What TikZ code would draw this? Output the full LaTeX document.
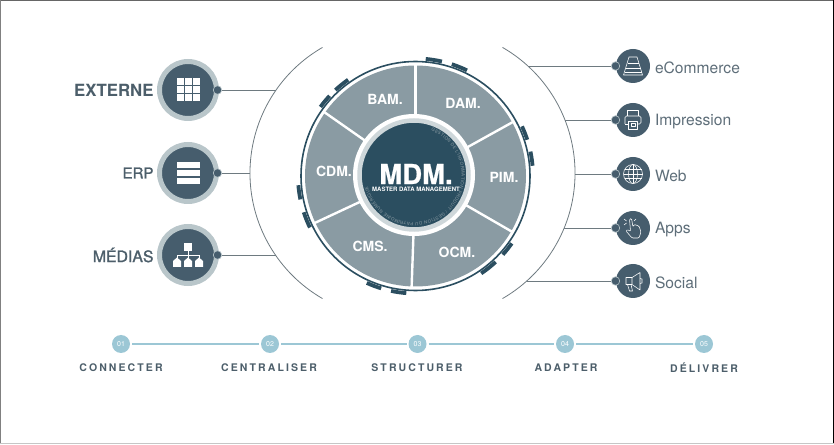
\documentclass[tikz,border=0pt]{standalone}
\usepackage{fontspec}
\setmainfont{TeX Gyre Heros}
\newfontfamily\medfont[FakeBold=1.5]{TeX Gyre Heros}
\newfontfamily\heavyfont[BoldFeatures={FakeBold=0.8}]{TeX Gyre Heros}
\newfontfamily\stepfont[LetterSpace=20]{TeX Gyre Heros}
\usetikzlibrary{decorations.text}
\definecolor{hubdark}{HTML}{2B4E60}
\definecolor{slate}{HTML}{465D6D}
\definecolor{ringlight}{HTML}{B9C6CA}
\definecolor{sector}{HTML}{8A9BA3}
\definecolor{labelgrey}{HTML}{4C5E6A}
\definecolor{barblue}{HTML}{9CC7D5}
\definecolor{arcgrey}{HTML}{6E7A80}
\tikzset{
    srcnode/.style={circle,fill=slate,draw=ringlight,line width=5pt,minimum size=57pt,inner sep=0pt},
    srcdot/.style={circle,fill=slate,draw=ringlight,line width=0.6pt,minimum size=8.5pt,inner sep=0pt},
    outnode/.style={circle,fill=slate,minimum size=34pt,inner sep=0pt},
    stepdot/.style={circle,fill=barblue,minimum size=18pt,inner sep=0pt,outer sep=2pt,text=white,font=\fontsize{7}{8}\selectfont},
    srclabel/.style={anchor=east,text=labelgrey},
    outlabel/.style={anchor=west,text=labelgrey!90,font=\fontsize{15.6}{18}\selectfont},
    steplabel/.style={text=labelgrey,font=\stepfont\bfseries\fontsize{10.5}{12}\selectfont},
    seclabel/.style={text=white,font=\bfseries\fontsize{14}{16}\selectfont},
    thin line/.style={draw=arcgrey,line width=0.8pt},
    tick/.style={hubdark,line width=3.8pt},
    icon/.style={draw=white,line width=0.55pt,line join=round}
}
\begin{document}
\begin{tikzpicture}[x=1pt,y=1pt]
\useasboundingbox (0,0) rectangle (834,444);
% frame
\draw[gray!80!black,line width=1pt] (0,443.5) -- (834,443.5);
\draw[gray,line width=1pt] (0.5,0) -- (0.5,444);
\draw[black,line width=1pt] (833.5,0) -- (833.5,444);
\draw[gray!45,line width=1pt] (0,0.5) -- (834,0.5);

% outer arcs
\draw[thin line] (395,271) ++(120:145) arc[start angle=120,end angle=240,radius=145];
\draw[thin line] (430,271) ++(60:145) arc[start angle=60,end angle=-60,radius=145];

% wheel
\coordinate (wheel) at (415.5,268);
\draw[hubdark,line width=1.6pt] (wheel) circle (114.5);
\fill[sector] (wheel) circle (110.5);
\foreach \a in {90,29,-30,-92,205,145}
    \draw[white,line width=2.4pt] (wheel) -- ++(\a:112);
\foreach \a/\b in {85/77,72/64,25/18,12/5,-35/-42,-47/-56,-94.5/-102,-107/-114.5,-154/-162,-168.5/-175.5,144/137,133/125}
    \draw[tick] (wheel) ++(\a:117.5) arc[start angle=\a,end angle=\b,radius=117.5];
\fill[white] (414,269) circle (61);
\node[circle,fill=hubdark,draw=ringlight!70,line width=4.5pt,minimum size=109pt,inner sep=0pt] (hub) at (414,269) {};
\path[decorate,decoration={text along path,text align=fit to path,
    text={|\fontsize{4.4}{5}\selectfont\color{sector}|GESTION DE L'INFORMATION PRODUIT  /  GESTION DU PATRIMOINE NUMÉRIQUE}}]
    (hub.center) ++(69:47.5) arc[start angle=69,end angle=-166,radius=47.5];
\node[text=white,font=\heavyfont\bfseries\fontsize{27.5}{30}\selectfont] (mdm) at (416,270) {MDM.};
\node[text=white,font=\bfseries\fontsize{6}{7}\selectfont] (mdmsub) at (416,255) {MASTER DATA MANAGEMENT};
\node[seclabel] (bam) at (385,345) {BAM.};
\node[seclabel] (dam) at (463,341) {DAM.};
\node[seclabel] (pim) at (504,267) {PIM.};
\node[seclabel] (ocm) at (457,192) {OCM.};
\node[seclabel] (cms) at (370,198) {CMS.};
\node[seclabel] (cdm) at (334,273) {CDM.};

% sources
\node[srcnode] (externe) at (188,354) {};
\node[srcnode] (erp) at (188,271) {};
\node[srcnode] (medias) at (188,189) {};
\node[srcdot] (externedot) at (217.5,354) {};
\node[srcdot] (erpdot) at (217.5,271) {};
\node[srcdot] (mediasdot) at (217.5,189) {};
\node[srclabel,font=\bfseries\fontsize{16.8}{18}\selectfont] at (157,354) {EXTERNE};
\node[srclabel,font=\medfont\fontsize{15}{18}\selectfont] at (157,271) {ERP};
\node[srclabel,font=\medfont\fontsize{15.8}{18}\selectfont] at (157,189) {MÉDIAS};
\coordinate (arcA) at (276,354);
\coordinate (arcB) at (250,271);
\coordinate (arcC) at (275.5,189);
\draw[thin line] (externedot) -- (arcA);
\draw[thin line] (erpdot) -- (arcB);
\draw[thin line] (mediasdot) -- (arcC);
% source icons
\begin{scope}[shift={(externe.center)}]
    \foreach \i in {-1,0,1} \foreach \j in {-1,0,1}
        \fill[white] (\i*8-3.5,\j*8-3.5) rectangle ++(7,7);
\end{scope}
\begin{scope}[shift={(erp.center)}]
    \foreach \j in {-1,0,1}
        \fill[white] (-11.5,\j*8.2-3.2) rectangle ++(23,6.4);
\end{scope}
\begin{scope}[shift={(medias.center)}]
    \fill[white] (-4,4) rectangle (4,12);
    \foreach \i in {-11,0,11}
        \fill[white] (\i-4,-12) rectangle ++(8,6) (\i-4,-6) -- (\i,-2.5) -- (\i+4,-6) -- cycle;
    \draw[white,line width=0.7pt] (0,4) -- (0,-3) (-11,-3) -- (-11,0) -- (11,0) -- (11,-3);
\end{scope}

% outputs
\foreach \n/\y/\t in {ecom/378/eCommerce,print/324/Impression,web/270/Web,apps/216/Apps,social/163/Social}{
    \node[outnode] (\n) at (633,\y) {};
    \node[srcdot] (\n-dot) at (615.5,\y) {};
    \node[outlabel] (\n-label) at (651.5,\y-1.5) {\t};
}
\coordinate (arcD) at (528,378);
\coordinate (arcE) at (565,324);
\coordinate (arcF) at (575,270);
\coordinate (arcG) at (564,216);
\coordinate (arcH) at (527,163);
\draw[thin line] (arcD) -- (ecom-dot);
\draw[thin line] (arcE) -- (print-dot);
\draw[thin line] (arcF) -- (web-dot);
\draw[thin line] (arcG) -- (apps-dot);
\draw[thin line] (arcH) -- (social-dot);
% output icons
\begin{scope}[shift={(ecom.center)},icon]
    \draw (-9.5,-9) -- (9.5,-9) -- (4,9) -- (-4,9) -- cycle;
    \draw (-5.5,3) -- (5.5,3) (-7.5,-2.5) -- (7.5,-2.5) (-8.5,-6) -- (8.5,-6);
\end{scope}
\begin{scope}[shift={(print.center)},icon]
    \draw (-5.5,4) -- (-5.5,10) -- (5.5,10) -- (5.5,4);
    \draw[rounded corners=1.5pt] (-8,-4) -- (-8,4) -- (8,4) -- (8,-4) -- (4.5,-4);
    \draw (-8,-4) -- (-4.5,-4) (-4.5,-1) -- (-4.5,-9.5) -- (4.5,-9.5) -- (4.5,-1) -- cycle;
    \draw (-2,-6) rectangle (2,-3);
\end{scope}
\begin{scope}[shift={(web.center)},icon]
    \draw (0,0) circle (9.5);
    \draw (0,0) ellipse (4.5 and 9.5);
    \draw (0,-9.5) -- (0,9.5) (-9.5,0) -- (9.5,0) (-8.5,4.5) -- (8.5,4.5) (-8.5,-4.5) -- (8.5,-4.5);
\end{scope}
\begin{scope}[shift={(apps.center)},icon]
    \draw[rounded corners=1pt] (-1,-10) -- (-7,-3) -- (-5.5,-1.5) -- (-2.5,-3.5) -- (-3.5,9) -- (-1.5,9.5) -- (0,1) -- (1,3.5) -- (3,3) -- (4,2.5) -- (6,2) -- (8,-4) -- (6,-10) -- cycle;
    \draw (-6.5,5) -- (-9,3) (-6.5,7) -- (-9,9) (1,7) -- (3,9);
\end{scope}
\begin{scope}[shift={(social.center)},icon]
    \draw (-1,-3.5) -- (7,-9) -- (7,8.5) -- (-1,3.5) -- (-7,3.5) -- (-7,-3.5) -- cycle;
    \draw (-1,3.5) -- (-1,-3.5) (-5.5,-3.5) -- (-3.5,-10) -- (-0.5,-10) -- (-2,-3.5);
    \draw (7,-2.5) -- (9,-2) -- (9,2) -- (7,2.5);
\end{scope}

% steps
\node[stepdot] (stepA) at (121,100) {01};
\node[stepdot] (stepB) at (270,100) {02};
\node[stepdot] (stepC) at (417.5,100) {03};
\node[stepdot] (stepD) at (565,100) {04};
\node[stepdot] (stepE) at (704,100) {05};
\draw[barblue,line width=2pt] (stepA) -- (stepB);
\draw[barblue,line width=2pt] (stepB) -- (stepC);
\draw[barblue,line width=2pt] (stepC) -- (stepD);
\draw[barblue,line width=2pt] (stepD) -- (stepE);
\node[steplabel] at (121,76) {CONNECTER};
\node[steplabel] at (269,76) {CENTRALISER};
\node[steplabel] at (417,76) {STRUCTURER};
\node[steplabel] at (566,76) {ADAPTER};
\node[steplabel] at (704,76) {DÉLIVRER};
\end{tikzpicture}
\end{document}
